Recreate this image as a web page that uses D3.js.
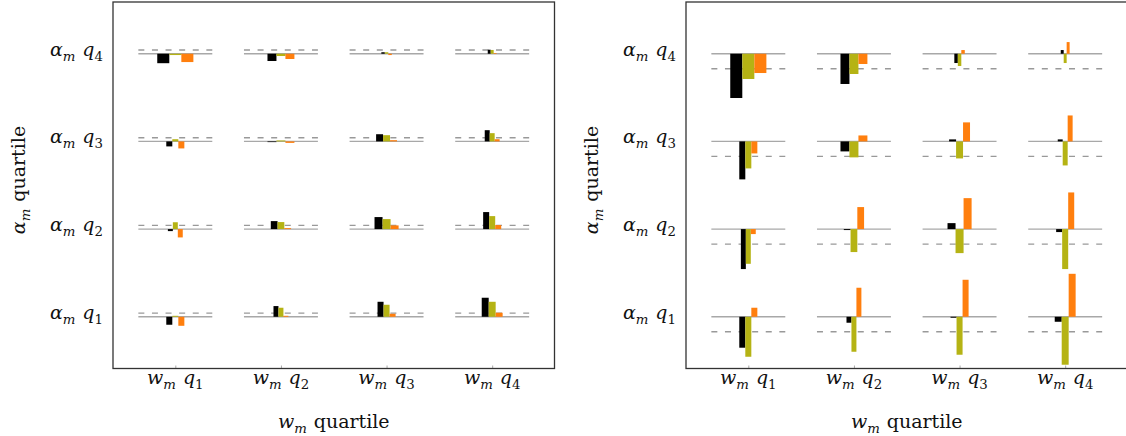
<!DOCTYPE html>
<html>
<head>
<meta charset="utf-8">
<script src="https://cdn.jsdelivr.net/npm/d3@7"></script>
<style>
  body { margin: 0; background: #fff; }
  svg { display: block; }
</style>
</head>
<body>
<script>
/*
*    quartile grid bars
*/

var width = 1126;
var height = 436;

// rows: alpha_m quartile q1..q4, columns: w_m quartile q1..q4
var rowQuartiles = [1, 2, 3, 4];
var colQuartiles = [1, 2, 3, 4];
var xTickLabels = ["w_m q_1", "w_m q_2", "w_m q_3", "w_m q_4"];
var yTickLabels = ["α_m q_1", "α_m q_2", "α_m q_3", "α_m q_4"];
var xTitle = "w_m quartile";
var yTitle = "α_m quartile";

// share of observations in each cell (% of total) -> bar width
var cellShare = [
    [5.7, 4.7, 5.7, 6.6],
    [4.7, 6.4, 7.6, 5.7],
    [5.7, 8.5, 6.6, 4.7],
    [11.4, 8.5, 3.3, 2.8]
];

// left panel
var leftBlack = [
    [-0.091, 0.122, 0.171, 0.217],
    [-0.023, 0.091, 0.137, 0.194],
    [-0.057, -0.008, 0.082, 0.128],
    [-0.108, -0.083, 0.017, 0.046]
];
var leftOlive = [
    [0.011, 0.103, 0.137, 0.171],
    [0.078, 0.080, 0.114, 0.148],
    [0.025, 0.011, 0.071, 0.094],
    [-0.015, -0.026, 0.017, 0.043]
];
var leftOrange = [
    [-0.103, 0.011, 0.034, 0.046],
    [-0.095, 0.011, 0.042, 0.046],
    [-0.080, -0.017, 0.014, 0.025],
    [-0.095, -0.060, -0.015, 0.008]
];
var leftRef = 0.042;

// right panel
var rightBlack = [
    [-0.353, -0.068, -0.011, -0.057],
    [-0.456, -0.011, 0.068, -0.034],
    [-0.433, -0.114, 0.023, 0.023],
    [-0.505, -0.345, -0.106, 0.042]
];
var rightOlive = [
    [-0.456, -0.399, -0.433, -0.547],
    [-0.396, -0.262, -0.274, -0.456],
    [-0.308, -0.182, -0.194, -0.274],
    [-0.288, -0.231, -0.140, -0.106]
];
var rightOrange = [
    [0.103, 0.331, 0.422, 0.490],
    [-0.057, 0.251, 0.353, 0.418],
    [-0.137, 0.068, 0.217, 0.296],
    [-0.220, -0.117, 0.042, 0.133]
];
var rightRef = -0.171;

var seriesColors = ["#000000", "#b5b314", "#ff7f0e"];
var fontFamily = "'DejaVu Serif', serif";
var fontSize = 19;

var panels = [
    {left: 113, right: 554.5, series: [leftBlack, leftOlive, leftOrange], ref: leftRef},
    {left: 686, right: 1127.5, series: [rightBlack, rightOlive, rightOrange], ref: rightRef}
];
var plotTop = 2, plotBottom = 368.5;

var svg = d3.select("body")
    .append("svg")
        .attr("width", width)
        .attr("height", height)
        .style("font-family", fontFamily)
        .style("font-size", fontSize + "px")
        .style("fill", "#111");

// "α_m q_4" -> math italic tokens with subscripts, plain words upright
function mathText(textSel, label) {
    var shift = 0;
    label.split(" ").forEach((tok, i) => {
        var lead = i > 0 ? 7 : 0;
        var parts = tok.split("_");
        textSel.append("tspan")
            .attr("dx", lead)
            .attr("dy", -shift)
            .attr("font-style", parts.length > 1 && !/\d/.test(parts[0]) ? "italic" : "normal")
            .text(parts[0]);
        shift = 0;
        if (parts.length > 1) {
            textSel.append("tspan")
                .attr("dy", 5)
                .attr("font-size", fontSize * 0.7)
                .attr("font-style", /\d/.test(parts[1]) ? "normal" : "italic")
                .text(parts[1]);
            shift = 5;
        }
    });
}

panels.forEach(p => {
    var x = d3.scaleLinear().domain([0.41, 4.59]).range([p.left, p.right]);
    var y = d3.scaleLinear().domain([0.41, 4.59]).range([plotBottom, plotTop]);
    var g = svg.append("g");

    // ticks
    g.append("g")
        .attr("transform", "translate(0," + plotBottom + ")")
        .call(d3.axisBottom(x).tickValues(colQuartiles).tickSize(-3).tickFormat(""))
        .call(a => a.select(".domain").remove())
        .selectAll("line").attr("stroke", "#aaa");

    // reference lines of every cell
    rowQuartiles.forEach((r, i) => {
        colQuartiles.forEach((c, j) => {
            g.append("line")
                .attr("x1", x(c - 0.35)).attr("x2", x(c + 0.35))
                .attr("y1", y(r)).attr("y2", y(r))
                .attr("stroke", "#a8a8a8")
                .attr("stroke-width", 1.4);
            g.append("line")
                .attr("x1", x(c - 0.35)).attr("x2", x(c + 0.35))
                .attr("y1", y(r + p.ref)).attr("y2", y(r + p.ref))
                .attr("stroke", "#999")
                .attr("stroke-width", 1.4)
                .attr("stroke-dasharray", "6,7.6");
        });
    });

    // bars
    rowQuartiles.forEach((r, i) => {
        colQuartiles.forEach((c, j) => {
            var w = cellShare[i][j] / 100;
            p.series.forEach((s, k) => {
                var v = s[i][j];
                var xs = c + (k - 1.5) * w;
                g.append("rect")
                    .attr("fill", seriesColors[k])
                    .attr("x", x(xs))
                    .attr("width", x(xs + w) - x(xs))
                    .attr("y", Math.min(y(r), y(r + v)))
                    .attr("height", Math.abs(y(r + v) - y(r)));
            });
        });
    });

    // frame
    g.append("rect")
        .attr("x", p.left).attr("y", plotTop)
        .attr("width", p.right - p.left).attr("height", plotBottom - plotTop)
        .attr("fill", "none")
        .attr("stroke", "#333")
        .attr("stroke-width", 1.3);

    // tick labels
    colQuartiles.forEach((c, j) => {
        g.append("text")
            .attr("x", x(c))
            .attr("y", 384)
            .attr("text-anchor", "middle")
            .call(t => mathText(t, xTickLabels[j]));
    });
    rowQuartiles.forEach((r, i) => {
        g.append("text")
            .attr("x", p.left - 10)
            .attr("y", y(r) + 2)
            .attr("text-anchor", "end")
            .call(t => mathText(t, yTickLabels[i]));
    });

    // axis titles
    g.append("text")
        .attr("x", (p.left + p.right) / 2)
        .attr("y", 428)
        .attr("text-anchor", "middle")
        .call(t => mathText(t, xTitle));
    g.append("text")
        .attr("transform", "translate(" + (p.left - 88) + "," + 180 + ") rotate(-90)")
        .attr("text-anchor", "middle")
        .call(t => mathText(t, yTitle));
});
</script>
</body>
</html>
